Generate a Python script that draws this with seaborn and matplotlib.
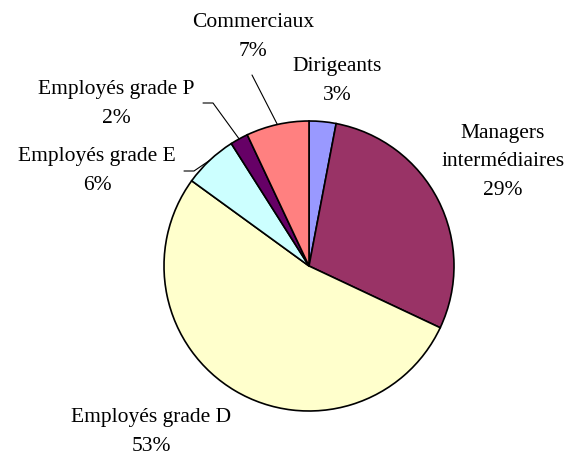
import matplotlib
matplotlib.use("Agg")
import matplotlib.pyplot as plt
import numpy as np
import seaborn as sns

sns.set_theme(style="white")
plt.rcParams["font.family"] = ["Liberation Serif", "DejaVu Serif"]

categories = [
    "Dirigeants",
    "Managers\nintermédiaires",
    "Employés grade D",
    "Employés grade E",
    "Employés grade P",
    "Commerciaux",
]
shares = [3, 29, 53, 6, 2, 7]
colors = ["#9999FF", "#993366", "#FFFFCC", "#CCFFFF", "#660066", "#FF8080"]

# label centres in pixels (x, y from top)
label_px = [(337, 81), (503, 162), (151, 432), (97, 171), (116, 104), (253, 37)]
# leader lines: label-side points in pixels, wedge end taken from the pie
leaders = {
    5: [(252, 75)],
    4: [(203, 103), (213, 103)],
    3: [(184, 171), (194, 171)],
}

W, H = 569, 455
CX, CY, R = 309, 266, 145


def to_data(px, py):
    return (px - CX) / R, (CY - py) / R


fig = plt.figure(figsize=(W / 100, H / 100), dpi=100)
ax = fig.add_axes([0, 0, 1, 1])

wedges, _ = ax.pie(
    shares,
    colors=colors,
    startangle=90,
    counterclock=False,
    radius=1,
    wedgeprops={"edgecolor": "black", "linewidth": 1.2},
)
ax.set_aspect("auto")
ax.set_xlim(-CX / R, (W - CX) / R)
ax.set_ylim(-(H - CY) / R, CY / R)
ax.axis("off")

for i, (cat, val) in enumerate(zip(categories, shares)):
    x, y = to_data(*label_px[i])
    ax.text(x, y, f"{cat}\n{val}%", ha="center", va="center",
            fontsize=15.5, linespacing=1.7, color="black")

for i, pts in leaders.items():
    w = wedges[i]
    mid = np.deg2rad((w.theta1 + w.theta2) / 2)
    xs = [to_data(*p)[0] for p in pts] + [np.cos(mid)]
    ys = [to_data(*p)[1] for p in pts] + [np.sin(mid)]
    ax.plot(xs, ys, color="black", linewidth=0.8)

fig.savefig("out.png", dpi=100)
